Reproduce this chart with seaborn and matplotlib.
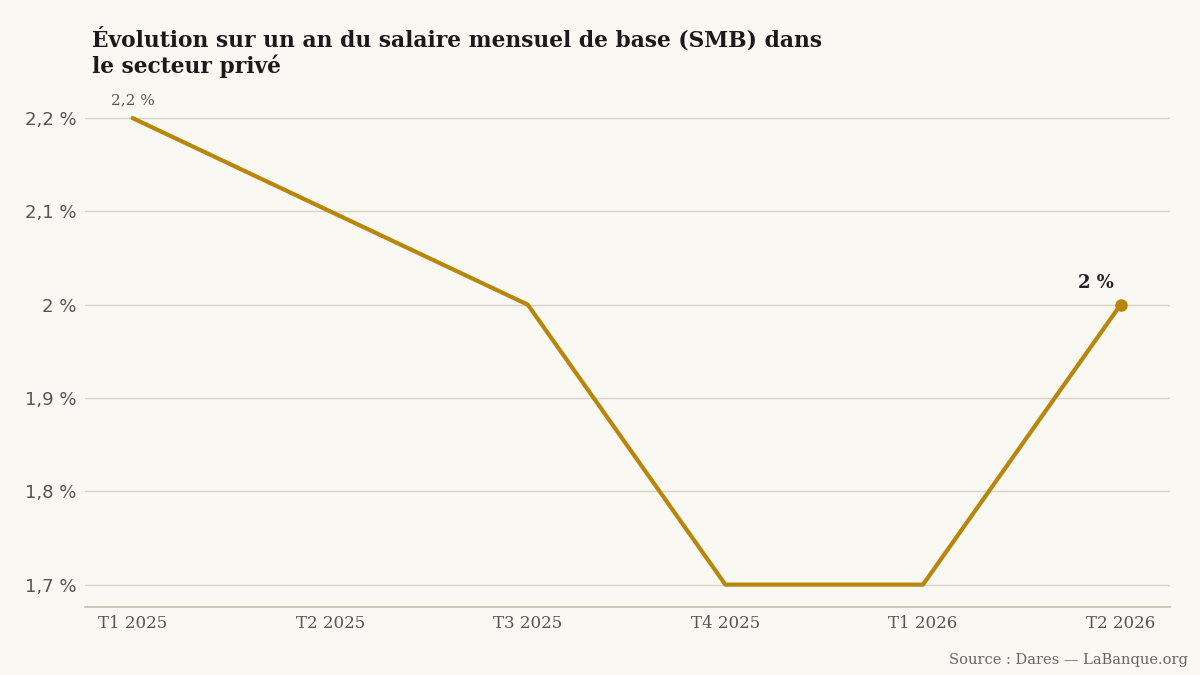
import matplotlib
matplotlib.use("Agg")
import matplotlib.pyplot as plt
import seaborn as sns
import pandas as pd

quarters = ["T1 2025", "T2 2025", "T3 2025", "T4 2025", "T1 2026", "T2 2026"]
values = [2.2, 2.1, 2.0, 1.7, 1.7, 2.0]
yticks = [1.7, 1.8, 1.9, 2.0, 2.1, 2.2]
ylabels = ["1,7 %", "1,8 %", "1,9 %", "2 %", "2,1 %", "2,2 %"]

sns.set_theme(style="white")
bg = "#faf8f2"
color = "#b8860b"
df = pd.DataFrame({"x": range(len(quarters)), "v": values})

fig = plt.figure(figsize=(12, 6.75), dpi=100, facecolor=bg)
ax = fig.add_axes([0.071, 0.1007, 0.904, 0.752], facecolor=bg)
sns.lineplot(data=df, x="x", y="v", ax=ax, color=color, linewidth=3)
ax.plot(df["x"].iloc[-1], df["v"].iloc[-1], "o", color=color, markersize=8)

ax.set_xlim(-0.24, 5.25)
ax.set_ylim(1.676, 2.22)
ax.set_yticks(yticks)
ax.set_yticklabels(ylabels, fontsize=13, color="#555555")
ax.set_xticks(range(len(quarters)))
ax.set_xticklabels(quarters, fontsize=12, color="#555555", family="DejaVu Serif")
ax.tick_params(axis="both", length=0, pad=6)
ax.yaxis.grid(True, color="#d9d3c5", linewidth=1)
for s in ["top", "right", "left"]:
    ax.spines[s].set_visible(False)
ax.spines["bottom"].set_color("#c9c2b2")
ax.set_xlabel("")
ax.set_ylabel("")

ax.annotate("2,2 %", (0, 2.2), xytext=(0, 10), textcoords="offset points",
            ha="center", fontsize=11, color="#555555", family="DejaVu Serif")
ax.annotate("2 %", (5, 2.0), xytext=(-18, 12), textcoords="offset points",
            ha="center", fontsize=13, fontweight="bold", color="#222222", family="DejaVu Serif")

fig.text(0.077, 0.885, "Évolution sur un an du salaire mensuel de base (SMB) dans\nle secteur privé",
         fontsize=15.7, fontweight="bold", family="DejaVu Serif", color="#1a1a1a",
         va="bottom", linespacing=1.15)
fig.text(0.99, 0.012, "Source : Dares — LaBanque.org", ha="right", va="bottom",
         fontsize=10.5, color="#666666", family="DejaVu Serif")

fig.savefig("out.png", dpi=100, facecolor=bg)
